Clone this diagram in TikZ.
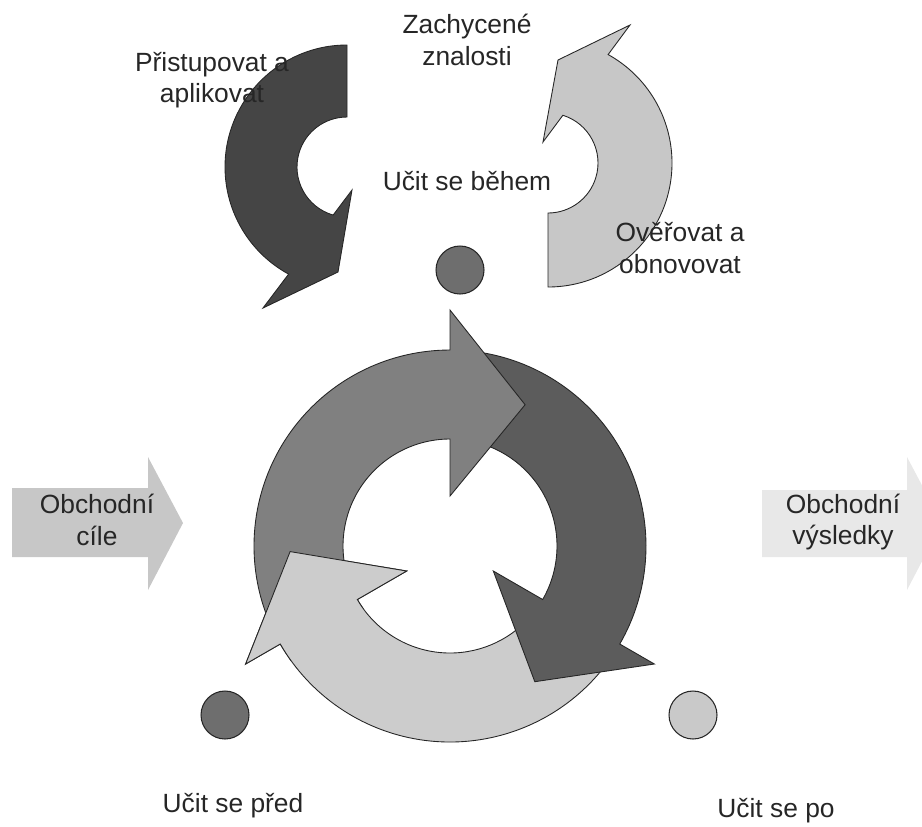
\documentclass[tikz,border=0pt]{standalone}
\usepackage{fontspec}
\setmainfont{Liberation Sans}
\begin{document}
\begin{tikzpicture}[x=0.02cm, y=0.02cm, font=\fontsize{15}{18}\selectfont,
  txt/.style={align=center, text=black!85, inner sep=0pt},
  ringarrow/.style={draw=black!85, line width=0.5pt},
  dot/.style={circle, draw=black!85, line width=0.6pt, minimum size=0.96cm, inner sep=0pt}]

\useasboundingbox (0,0) rectangle (922,-826);
\clip (0,0) rectangle (922,-826);

% Vstup a výstup
\fill[black!22] (12,-488) -- (148,-488) -- (148,-457) -- (183,-523) -- (148,-590) -- (148,-557) -- (12,-557) -- cycle;
\fill[black!9] (762,-490) -- (907,-490) -- (907,-457) -- (942,-523) -- (907,-590) -- (907,-557) -- (762,-557) -- cycle;
\node[txt] (goals) at (97,-520) {Obchodní\\cíle};
\node[txt] (results) at (843,-522) {Obchodní\\výsledky};

% Cyklus: před, během, po
\begin{scope}[shift={(450,-546)}]
\draw[ringarrow, fill=black!20] (-39:196) arc[start angle=-39, end angle=-150, radius=196] -- (-150:236) -- (-178:160) -- (-150:50) -- (-150:107) arc[start angle=-150, end angle=-39, radius=107] -- cycle;
\draw[ringarrow, fill=black!64] (81:196) arc[start angle=81, end angle=-30, radius=196] -- (-30:236) -- (-58:160) -- (-30:50) -- (-30:107) arc[start angle=-30, end angle=81, radius=107] -- cycle;
\draw[ringarrow, fill=black!50] (201:196) arc[start angle=201, end angle=90, radius=196] -- (90:236) -- (62:160) -- (90:50) -- (90:107) arc[start angle=90, end angle=201, radius=107] -- cycle;
% světlá šipka ještě jednou navrch
\begin{scope}
\clip (0,0) -- (170:300) arc[start angle=170, end angle=216, radius=300] -- cycle;
\draw[ringarrow, fill=black!20] (-39:196) arc[start angle=-39, end angle=-150, radius=196] -- (-150:236) -- (-178:160) -- (-150:50) -- (-150:107) arc[start angle=-150, end angle=-39, radius=107] -- cycle;
\end{scope}
\end{scope}

% Horní šipky
\begin{scope}[shift={(347,-167)}]
\draw[ringarrow, fill=black!73] (90:122) arc[start angle=90, end angle=241.4, radius=122] -- (-84,-141) -- (-9,-105) -- (5,-23) -- (253.9:50) arc[start angle=253.9, end angle=90, radius=50] -- cycle;
\end{scope}
\begin{scope}[shift={(548,-163)}]
\draw[ringarrow, fill=black!22] (-90:124) arc[start angle=-90, end angle=61, radius=124] -- (82,138) -- (10,103) -- (-5,21) -- (72.7:50) arc[start angle=72.7, end angle=-90, radius=50] -- cycle;
\end{scope}

% Body
\node[dot, fill=black!57] (during) at (460,-270) {};
\node[dot, fill=black!57] (before) at (225,-715) {};
\node[dot, fill=black!21] (after) at (693,-715) {};

% Popisky
\node[txt] (access) at (212,-80) {Přistupovat a\\aplikovat};
\node[txt] (captured) at (467,-40) {Zachycené\\znalosti};
\node[txt] (duringlbl) at (467,-181) {Učit se během};
\node[txt] (validate) at (680,-248) {Ověřovat a\\obnovovat};
\node[txt] (beforelbl) at (233,-806) {Učit se před};
\node[txt] (afterlbl) at (776,-811) {Učit se po};

\end{tikzpicture}
\end{document}
